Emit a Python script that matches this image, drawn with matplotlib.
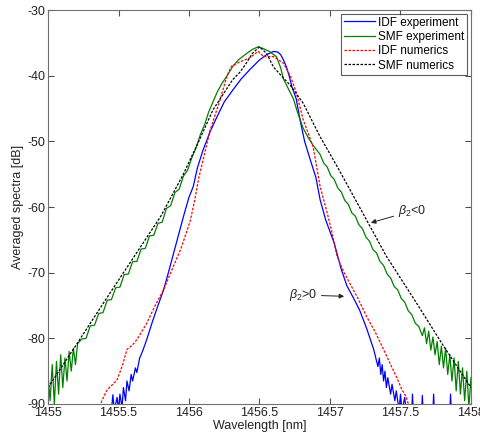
import numpy as np
import matplotlib
matplotlib.use('Agg')
import matplotlib.pyplot as plt

plt.rcParams['font.family'] = ['Liberation Sans', 'DejaVu Sans']
plt.rcParams['mathtext.fontset'] = 'custom'
plt.rcParams['mathtext.rm'] = 'Liberation Sans'
plt.rcParams['mathtext.it'] = 'Liberation Sans:italic'
plt.rcParams['axes.unicode_minus'] = False

# IDF experiment (blue)
idf_exp_x = [1455.45, 1455.46, 1455.47, 1455.49, 1455.50, 1455.51, 1455.525, 1455.535,
             1455.55, 1455.56, 1455.575, 1455.59, 1455.60, 1455.62, 1455.63, 1455.65,
             1455.67, 1455.70, 1455.74, 1455.78, 1455.82, 1455.86, 1455.91, 1455.96,
             1456.00, 1456.03, 1456.06, 1456.10, 1456.15, 1456.20, 1456.25, 1456.31,
             1456.37, 1456.43, 1456.50, 1456.55, 1456.60, 1456.63, 1456.65, 1456.67,
             1456.69, 1456.71, 1456.73, 1456.76, 1456.79, 1456.82, 1456.86, 1456.90,
             1456.93, 1456.97, 1457.03, 1457.08, 1457.12, 1457.17, 1457.21, 1457.26,
             1457.31, 1457.34, 1457.35, 1457.36, 1457.37, 1457.38, 1457.39, 1457.40,
             1457.41, 1457.43, 1457.44, 1457.46, 1457.47, 1457.49, 1457.50, 1457.51,
             1457.53, 1457.54, 1457.58, 1457.585, 1457.59, 1457.65, 1457.655, 1457.66,
             1457.73, 1457.735, 1457.74, 1457.85, 1457.855, 1457.86]
idf_exp_y = [-91, -88.6, -91, -89.0, -91, -88.5, -90.5, -87.5,
             -89.5, -86.5, -88.0, -85.5, -86.5, -84.5, -85.2, -83.0,
             -82.0, -80.2, -77.5, -75.0, -72.6, -69.5, -65.5, -61.5,
             -58.5, -56.9, -54.0, -51.3, -48.5, -46.2, -44.0, -42.2,
             -40.5, -39.1, -37.6, -36.8, -36.3, -36.4, -36.8, -37.6,
             -38.6, -40.0, -41.7, -43.5, -47.0, -50.0, -52.8, -55.5,
             -58.9, -62.0, -65.5, -69.5, -72.0, -74.0, -75.7, -78.5,
             -81.7, -84.3, -83.0, -85.5, -84.0, -86.5, -85.0, -87.5,
             -86.0, -88.5, -87.0, -89.5, -88.0, -91, -88.5, -91,
             -89.0, -91, -91, -88.5, -91, -91, -88.7, -91,
             -91, -88.5, -91, -91, -88.5, -91]

# SMF experiment (green)
smf_exp_x = [1455.00, 1455.015, 1455.03, 1455.045, 1455.06, 1455.075, 1455.09, 1455.105,
             1455.12, 1455.135, 1455.15, 1455.165, 1455.18, 1455.195, 1455.21,
             1455.24, 1455.27, 1455.30, 1455.33, 1455.36, 1455.39, 1455.42, 1455.45,
             1455.48, 1455.51, 1455.54, 1455.57, 1455.60, 1455.63, 1455.66, 1455.69,
             1455.72, 1455.75, 1455.78, 1455.81, 1455.84, 1455.87, 1455.90, 1455.93,
             1455.96, 1455.99, 1456.02, 1456.05, 1456.08, 1456.11, 1456.14, 1456.17,
             1456.20, 1456.23, 1456.27, 1456.31, 1456.35, 1456.41, 1456.45, 1456.49,
             1456.53, 1456.57, 1456.62, 1456.65, 1456.67, 1456.70, 1456.74, 1456.77,
             1456.81, 1456.85, 1456.88,
             1456.93, 1456.955, 1456.98, 1457.005, 1457.03, 1457.055, 1457.08, 1457.105,
             1457.13, 1457.155, 1457.18, 1457.205, 1457.23, 1457.255, 1457.28, 1457.305,
             1457.33, 1457.355, 1457.38, 1457.405, 1457.43, 1457.455, 1457.48, 1457.505,
             1457.53, 1457.555, 1457.58, 1457.605, 1457.63, 1457.655, 1457.67, 1457.685,
             1457.70, 1457.715, 1457.73, 1457.745, 1457.76, 1457.775, 1457.79, 1457.805,
             1457.82, 1457.835, 1457.85, 1457.865, 1457.88, 1457.895, 1457.91, 1457.925,
             1457.94, 1457.955, 1457.97, 1457.985, 1458.00]
smf_exp_y = [-85.5, -89.5, -84.0, -90.0, -83.5, -88.5, -82.5, -87.5,
             -83.0, -86.5, -82.0, -85.0, -81.5, -84.0, -80.8,
             -80.1, -80.0, -78.1, -78.0, -76.2, -76.1, -74.2, -74.1,
             -72.3, -72.2, -70.3, -70.2, -68.3, -68.3, -66.4, -66.3,
             -64.4, -64.3, -62.5, -62.3, -60.2, -59.8, -57.8, -57.3,
             -55.3, -54.4, -52.5, -51.0, -49.0, -47.5, -45.5, -44.0,
             -42.5, -41.3, -40.0, -38.6, -37.6, -36.6, -36.0, -35.6,
             -35.9, -36.3, -37.1, -38.8, -40.5, -41.8, -43.5, -45.6,
             -48.0, -49.6, -50.6,
             -52.0, -53.3, -53.9, -55.2, -55.8, -57.1, -57.7, -59.0,
             -59.6, -60.9, -61.4, -62.7, -63.3, -64.6, -65.2, -66.5,
             -67.0, -68.3, -68.9, -70.2, -70.8, -72.1, -72.6, -73.9,
             -74.5, -75.8, -76.4, -77.7, -78.2, -79.6, -78.4, -80.8,
             -78.9, -81.8, -79.8, -82.5, -80.5, -84.0, -81.2, -84.5,
             -81.5, -85.5, -82.5, -86.5, -83.0, -88.0, -83.5, -88.5,
             -84.5, -89.5, -85.0, -90.5, -86.0]

# IDF numerics (red dashed)
idf_num_x = [1455.36, 1455.38, 1455.42, 1455.46, 1455.49, 1455.53, 1455.56, 1455.60,
             1455.63, 1455.67, 1455.70, 1455.76, 1455.82, 1455.88, 1455.94, 1455.98,
             1456.01, 1456.04, 1456.07, 1456.10, 1456.15, 1456.22, 1456.27, 1456.30,
             1456.36, 1456.43, 1456.49, 1456.53, 1456.60, 1456.67, 1456.72, 1456.76,
             1456.81, 1456.88, 1456.93, 1456.98, 1457.01, 1457.05, 1457.10, 1457.14,
             1457.20, 1457.26, 1457.32, 1457.38, 1457.43, 1457.47, 1457.51, 1457.54,
             1457.57]
idf_num_y = [-91, -89.6, -87.8, -87.0, -86.3, -84.0, -81.7, -81.0,
             -80.2, -78.8, -77.7, -75.0, -72.6, -69.5, -66.5, -64.0,
             -62.0, -59.0, -55.5, -52.8, -48.3, -43.7, -40.0, -38.6,
             -37.9, -37.3, -36.3, -37.1, -37.1, -38.1, -40.1, -42.5,
             -46.7, -50.8, -56.9, -60.9, -63.5, -67.5, -70.0, -71.6,
             -74.0, -76.7, -79.0, -81.7, -84.0, -85.8, -87.8, -88.9,
             -91]

# SMF numerics (black dashed)
smf_num_x = [1455.00, 1455.20, 1455.40, 1455.60, 1455.80, 1455.96, 1456.08, 1456.17,
             1456.31, 1456.36, 1456.40, 1456.45, 1456.50, 1456.55, 1456.60, 1456.65,
             1456.72, 1456.81, 1456.93, 1457.05, 1457.14, 1457.26, 1457.40,
             1457.61, 1457.80, 1458.00]
smf_num_y = [-87.5, -81.0, -74.4, -67.9, -61.4, -55.0, -49.5, -45.2,
             -40.6, -39.5, -38.3, -36.6, -35.6, -36.6, -38.7, -39.9,
             -41.5, -44.2, -49.3, -53.8, -57.3, -62.0, -67.5,
             -74.5, -81.0, -87.5]

x_ticks = [1455, 1455.5, 1456, 1456.5, 1457, 1457.5, 1458]
x_ticklabels = ['1455', '1455.5', '1456', '1456.5', '1457', '1457.5', '1458']
y_ticks = [-90, -80, -70, -60, -50, -40, -30]

fig = plt.figure(figsize=(4.81, 4.36), dpi=100)
ax = fig.add_axes([0.0998, 0.0734, 0.8794, 0.9036])

lw = 0.9
ax.plot(idf_exp_x, idf_exp_y, color='#0000ff', lw=lw, label='IDF experiment')
ax.plot(smf_exp_x, smf_exp_y, color='#008000', lw=lw, label='SMF experiment')
ax.plot(idf_num_x, idf_num_y, color='#ff0000', lw=lw, ls=(0, (2, 1.2)), label='IDF numerics')
ax.plot(smf_num_x, smf_num_y, color='#000000', lw=lw, ls=(0, (2, 1.2)), label='SMF numerics')

ax.set_xlim(1455, 1458)
ax.set_ylim(-90, -30)
ax.set_xticks(x_ticks)
ax.set_xticklabels(x_ticklabels)
ax.set_yticks(y_ticks)
ax.tick_params(direction='in', top=True, right=True, length=4, width=0.8,
               labelsize=9, colors='#505050', labelcolor='#222222', pad=2)
for s in ax.spines.values():
    s.set_color('#707070')
    s.set_linewidth(0.8)

ax.set_xlabel('Wavelength [nm]', fontsize=9, color='#222222', labelpad=1)
ax.set_ylabel('Averaged spectra [dB]', fontsize=9, color='#222222', labelpad=2)

leg = ax.legend(loc='upper right', fontsize=8.5, frameon=True, fancybox=False,
                handlelength=2.6, handletextpad=0.3, borderpad=0.25,
                labelspacing=0.2, borderaxespad=0.3)
leg.get_frame().set_edgecolor('#333333')
leg.get_frame().set_linewidth(0.8)

ax.annotate(r'$\beta_2$<0', xy=(1457.29, -62.4), xytext=(1457.48, -60.6),
            fontsize=9, color='#222222', va='center', ha='left',
            arrowprops=dict(arrowstyle='-|>', color='#222222', lw=0.7,
                            mutation_scale=7, shrinkA=1, shrinkB=0))
ax.annotate(r'$\beta_2$>0', xy=(1457.10, -73.6), xytext=(1456.91, -73.4),
            fontsize=9, color='#222222', va='center', ha='right',
            arrowprops=dict(arrowstyle='-|>', color='#222222', lw=0.7,
                            mutation_scale=7, shrinkA=1, shrinkB=0))

fig.savefig('out.png', dpi=100)
